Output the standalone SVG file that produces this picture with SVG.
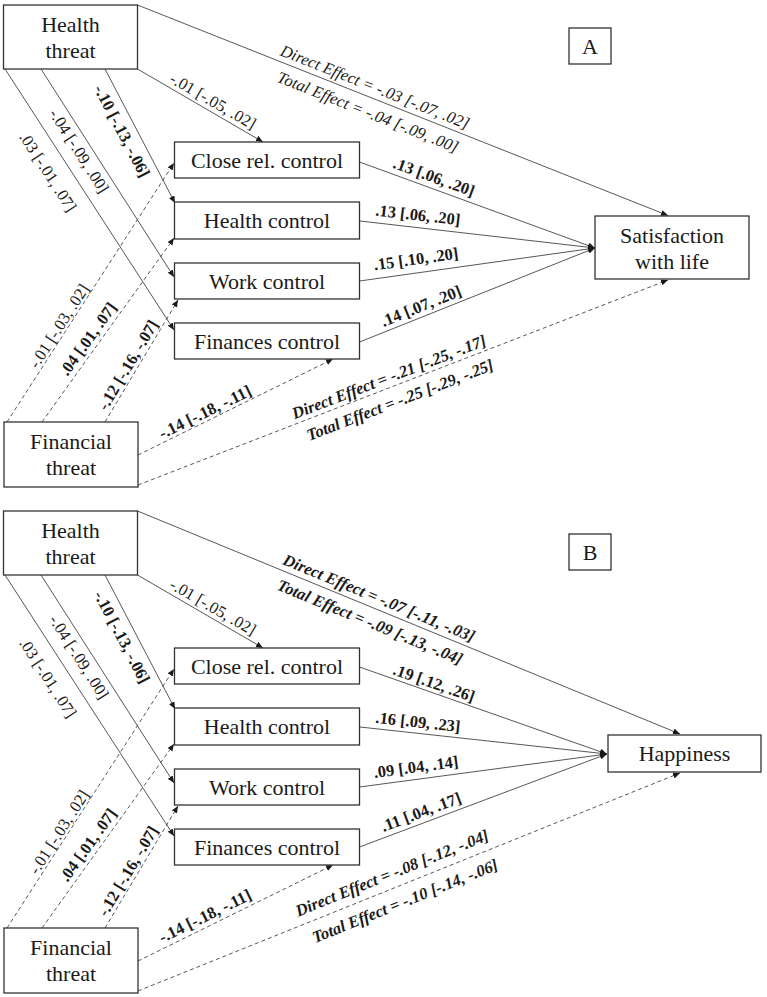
<svg xmlns="http://www.w3.org/2000/svg" width="767" height="997" viewBox="0 0 767 997">
<style>
text{font-family:"Liberation Serif","Times New Roman",serif;fill:#1a1a1a}
.n{font-size:22px;text-anchor:middle}
.l{font-size:16.5px;text-anchor:middle}
.b{font-weight:bold}
.i{font-style:italic}
.box{fill:#fff;stroke:#333;stroke-width:1.3}
.c{stroke:#444;stroke-width:0.9;fill:none;marker-end:url(#ah)}
.d{stroke-dasharray:4 3}
</style>
<defs>
<marker id="ah" markerUnits="userSpaceOnUse" markerWidth="8" markerHeight="7" refX="7" refY="3" orient="auto">
<path d="M0,0 L7,3 L0,6 z" fill="#1a1a1a"/>
</marker>
</defs>
<rect width="767" height="997" fill="#fff"/>

<g id="connectors">
<!-- Panel A -->
<line class="c" x1="137.5" y1="5" x2="668" y2="215.5"/>
<line class="c" x1="137.5" y1="69" x2="263" y2="142"/>
<line class="c" x1="105" y1="69" x2="175" y2="203"/>
<line class="c" x1="41" y1="69" x2="174" y2="277"/>
<line class="c" x1="5" y1="69" x2="174" y2="330"/>
<line class="c d" x1="7" y1="422" x2="174" y2="163"/>
<line class="c d" x1="42" y1="422" x2="174" y2="238"/>
<line class="c d" x1="105" y1="422" x2="178" y2="300"/>
<line class="c d" x1="138" y1="455" x2="333" y2="359"/>
<line class="c d" x1="138" y1="485" x2="668" y2="280"/>
<line class="c" x1="359.5" y1="162" x2="595" y2="248"/>
<line class="c" x1="360" y1="221" x2="595" y2="248"/>
<line class="c" x1="359.5" y1="281" x2="595" y2="248"/>
<line class="c" x1="359.5" y1="342" x2="595" y2="248"/>
<!-- Panel B -->
<line class="c" x1="137.5" y1="511" x2="680" y2="734"/>
<line class="c" x1="137.5" y1="575" x2="263" y2="648"/>
<line class="c" x1="105" y1="575" x2="175" y2="709"/>
<line class="c" x1="41" y1="575" x2="174" y2="783"/>
<line class="c" x1="5" y1="575" x2="174" y2="836"/>
<line class="c d" x1="7" y1="928" x2="174" y2="669"/>
<line class="c d" x1="42" y1="928" x2="174" y2="744"/>
<line class="c d" x1="105" y1="928" x2="178" y2="806"/>
<line class="c d" x1="138" y1="961" x2="333" y2="865"/>
<line class="c d" x1="138" y1="991" x2="680" y2="773"/>
<line class="c" x1="359.5" y1="667" x2="607" y2="754"/>
<line class="c" x1="360" y1="727" x2="607" y2="754"/>
<line class="c" x1="359.5" y1="787" x2="607" y2="754"/>
<line class="c" x1="359.5" y1="847" x2="607" y2="754"/>
</g>

<g id="labels">
<!-- Panel A -->
<text class="l i" transform="translate(375,87) rotate(21.67)" y="5.5">Direct Effect = -.03 [-.07, .02]</text>
<text class="l i" transform="translate(368,112) rotate(21.67)" y="5.5">Total Effect = -.04 [-.09, .00]</text>
<text class="l" transform="translate(213,101) rotate(30.08)" y="5.5">-.01 [-.05, .02]</text>
<text class="l b" transform="translate(122,131) rotate(62.4)" y="5.5">-.10 [-.13, -.06]</text>
<text class="l" transform="translate(79,151) rotate(57.4)" y="5.5">-.04 [-.09, .00]</text>
<text class="l" transform="translate(48,172) rotate(57.1)" y="5.5">.03 [-.01, .07]</text>
<text class="l" transform="translate(59,326) rotate(-57.2)" y="5.5">-.01 [-.03, .02]</text>
<text class="l b" transform="translate(88,339) rotate(-54.3)" y="5.5">.04 [.01, .07]</text>
<text class="l b" transform="translate(128,365) rotate(-59.1)" y="5.5">-.12 [-.16, -.07]</text>
<text class="l b" transform="translate(205,412) rotate(-26.2)" y="5.5">-.14 [-.18, -.11]</text>
<text class="l b i" transform="translate(389,377) rotate(-21.1)" y="5.5">Direct Effect = -.21 [-.25, -.17]</text>
<text class="l b i" transform="translate(400,400) rotate(-21.1)" y="5.5">Total Effect = -.25 [-.29, -.25]</text>
<text class="l b" transform="translate(434,177) rotate(20.06)" y="5.5">.13 [.06, .20]</text>
<text class="l b" transform="translate(418,215) rotate(6.55)" y="5.5">.13 [.06, .20]</text>
<text class="l b" transform="translate(416,259) rotate(-7.98)" y="5.5">.15 [.10, .20]</text>
<text class="l b" transform="translate(421,306) rotate(-21.76)" y="5.5">.14 [.07, .20]</text>
<!-- Panel B -->
<text class="l b i" transform="translate(379,598) rotate(22.35)" y="5.5">Direct Effect = -.07 [-.11, -.03]</text>
<text class="l b i" transform="translate(370,622) rotate(22.35)" y="5.5">Total Effect = -.09 [-.13, -.04]</text>
<text class="l" transform="translate(213,607) rotate(30.08)" y="5.5">-.01 [-.05, .02]</text>
<text class="l b" transform="translate(122,637) rotate(62.4)" y="5.5">-.10 [-.13, -.06]</text>
<text class="l" transform="translate(79,657) rotate(57.4)" y="5.5">-.04 [-.09, .00]</text>
<text class="l" transform="translate(48,678) rotate(57.1)" y="5.5">.03 [-.01, .07]</text>
<text class="l" transform="translate(59,832) rotate(-57.2)" y="5.5">-.01 [-.03, .02]</text>
<text class="l b" transform="translate(88,845) rotate(-54.3)" y="5.5">.04 [.01, .07]</text>
<text class="l b" transform="translate(128,871) rotate(-59.1)" y="5.5">-.12 [-.16, -.07]</text>
<text class="l b" transform="translate(205,916) rotate(-26.2)" y="5.5">-.14 [-.18, -.11]</text>
<text class="l b i" transform="translate(392,873) rotate(-21.9)" y="5.5">Direct Effect = -.08 [-.12, -.04]</text>
<text class="l b i" transform="translate(405,901) rotate(-21.9)" y="5.5">Total Effect = -.10 [-.14, -.06]</text>
<text class="l b" transform="translate(434,683) rotate(19.37)" y="5.5">.19 [.12, .26]</text>
<text class="l b" transform="translate(418,722) rotate(6.24)" y="5.5">.16 [.09, .23]</text>
<text class="l b" transform="translate(416,767) rotate(-7.59)" y="5.5">.09 [.04, .14]</text>
<text class="l b" transform="translate(421,812) rotate(-20.6)" y="5.5">.11 [.04, .17]</text>
</g>

<!-- Panel A nodes -->
<g id="A-health-threat"><rect class="box" x="3.5" y="5" width="134" height="64"/><text class="n" x="70.5" y="31.5">Health</text><text class="n" x="70.5" y="57.5">threat</text></g>
<g id="A-close-rel-control"><rect class="box" x="174.5" y="142" width="185" height="36"/><text class="n" x="267" y="167.5">Close rel. control</text></g>
<g id="A-health-control"><rect class="box" x="174.5" y="202" width="185" height="37"/><text class="n" x="267" y="228">Health control</text></g>
<g id="A-work-control"><rect class="box" x="174.5" y="263" width="185" height="36"/><text class="n" x="267" y="288.5">Work control</text></g>
<g id="A-finances-control"><rect class="box" x="174.5" y="323" width="185" height="36"/><text class="n" x="267" y="348.5">Finances control</text></g>
<g id="A-financial-threat"><rect class="box" x="4" y="422" width="134" height="65"/><text class="n" x="71" y="449">Financial</text><text class="n" x="71" y="475">threat</text></g>
<g id="A-satisfaction"><rect class="box" x="595" y="216" width="154" height="63"/><text class="n" x="672" y="242.5">Satisfaction</text><text class="n" x="672" y="268.5">with life</text></g>
<g id="A-label"><rect class="box" x="569" y="28" width="42" height="36"/><text class="n" x="590" y="53.5">A</text></g>

<!-- Panel B nodes -->
<g id="B-health-threat"><rect class="box" x="3.5" y="511" width="134" height="64"/><text class="n" x="70.5" y="537.5">Health</text><text class="n" x="70.5" y="563.5">threat</text></g>
<g id="B-close-rel-control"><rect class="box" x="174.5" y="648" width="185" height="36"/><text class="n" x="267" y="673.5">Close rel. control</text></g>
<g id="B-health-control"><rect class="box" x="174.5" y="708" width="185" height="37"/><text class="n" x="267" y="734">Health control</text></g>
<g id="B-work-control"><rect class="box" x="174.5" y="769" width="185" height="36"/><text class="n" x="267" y="794.5">Work control</text></g>
<g id="B-finances-control"><rect class="box" x="174.5" y="829" width="185" height="36"/><text class="n" x="267" y="854.5">Finances control</text></g>
<g id="B-financial-threat"><rect class="box" x="4" y="928" width="134" height="65"/><text class="n" x="71" y="955">Financial</text><text class="n" x="71" y="981">threat</text></g>
<g id="B-happiness"><rect class="box" x="608" y="735" width="153" height="37"/><text class="n" x="684.5" y="761">Happiness</text></g>
<g id="B-label"><rect class="box" x="569" y="534" width="42" height="36"/><text class="n" x="590" y="559.5">B</text></g>
</svg>
